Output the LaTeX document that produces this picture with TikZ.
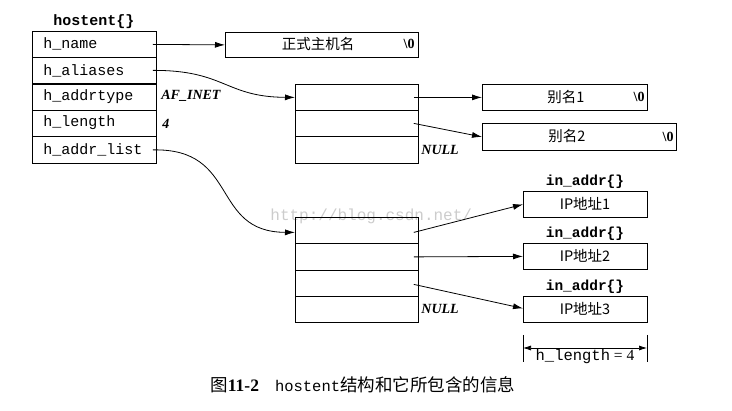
\documentclass[tikz,border=0pt]{standalone}
\usepackage{fontspec}
\setmainfont{Liberation Serif}
\setmonofont{Liberation Mono}
\newfontfamily\cjk{Noto Sans CJK SC}
\usetikzlibrary{arrows.meta}
\begin{document}
\begin{tikzpicture}[x=1pt,y=-1pt,
  line width=0.8pt,
  cell/.style={draw, inner sep=0pt, minimum height=26pt, anchor=north west},
  fld/.style={font=\fontsize{15}{15}\selectfont\ttfamily, anchor=west, inner sep=0pt},
  ttl/.style={font=\fontsize{15}{15}\selectfont\ttfamily\bfseries, inner sep=0pt},
  cn/.style={font=\fontsize{14.5}{15}\selectfont\cjk},
  it/.style={font=\fontsize{14}{14}\selectfont\bfseries\itshape, anchor=west, inner sep=0pt},
  zero/.style={font=\fontsize{14}{14}\selectfont\bfseries, anchor=east, inner sep=0pt},
  arr/.style={-{Latex[length=10pt,width=6pt]}, line width=0.8pt},
]
\useasboundingbox (0,0) rectangle (732,411);

% watermark
\node[font=\fontsize{16}{16}\selectfont\ttfamily, text=black!20, anchor=west, inner sep=0pt] (wm) at (270,216) {http://blog.csdn.net/};

% hostent struct
\node[ttl] (host) at (94,22) {hostent\{\}};
\node[cell, minimum width=124pt] (r1) at (32,31) {};
\node[cell, minimum width=124pt] (r2) at (32,57) {};
\node[cell, minimum width=124pt] (r3) at (32,84) {};
\node[cell, minimum width=124pt] (r4) at (32,110) {};
\node[cell, minimum width=124pt, minimum height=27pt] (r5) at (32,136) {};
\node[fld] (t1) at (43,44) {h\_name};
\node[fld] (t2) at (43,71) {h\_aliases};
\node[fld] (t3) at (43,97) {h\_addrtype};
\node[fld] (t4) at (43,123) {h\_length};
\node[fld] (t5) at (43,150) {h\_addr\_list};
\node[it] (afinet) at (161,96) {AF\_INET};
\node[it] (four) at (162,124) {4};

% official name
\node[cell, minimum width=193pt, minimum height=25pt] (nm) at (225,32) {};
\node[cn] (nmt) at (318,44) {正式主机名};
\node[zero] (nm0) at (415,44) {\textbackslash 0};

% alias array
\node[cell, minimum width=123pt] (a1) at (295,84) {};
\node[cell, minimum width=123pt] (a2) at (295,110) {};
\node[cell, minimum width=123pt, minimum height=27pt] (a3) at (295,136) {};
\node[it] (null1) at (421,150) {NULL};

% alias strings
\node[cell, minimum width=165pt] (al1) at (482,84) {};
\node[cn] (al1t) at (566,97) {别名1};
\node[zero] (al10) at (645,97) {\textbackslash 0};
\node[cell, minimum width=194pt, minimum height=27pt] (al2) at (482,123) {};
\node[cn] (al2t) at (567,136.5) {别名2};
\node[zero] (al20) at (674,136.5) {\textbackslash 0};

% addr list array
\node[cell, minimum width=123pt] (b1) at (295,217) {};
\node[cell, minimum width=123pt, minimum height=27pt] (b2) at (295,243) {};
\node[cell, minimum width=123pt] (b3) at (295,270) {};
\node[cell, minimum width=123pt] (b4) at (295,296) {};
\node[it] (null2) at (421,309) {NULL};

% in_addr
\node[ttl, font=\fontsize{14.5}{15}\selectfont\ttfamily\bfseries] (ia1) at (585,182) {in\_addr\{\}};
\node[ttl, font=\fontsize{14.5}{15}\selectfont\ttfamily\bfseries] (ia2) at (585,234) {in\_addr\{\}};
\node[ttl, font=\fontsize{14.5}{15}\selectfont\ttfamily\bfseries] (ia3) at (585,287) {in\_addr\{\}};
\node[cell, minimum width=124pt] (ip1) at (523,191) {};
\node[cell, minimum width=124pt] (ip2) at (523,243) {};
\node[cell, minimum width=124pt] (ip3) at (523,296) {};
\node[cn] (ip1t) at (585,204) {IP地址1};
\node[cn] (ip2t) at (585,256) {IP地址2};
\node[cn] (ip3t) at (585,309) {IP地址3};

% connectors
\draw[arr] ([xshift=-4pt]r1.east) -- (nm.west);
\draw[arr] ([xshift=-4pt]r2.east) .. controls (225,70) and (225,97) .. (a1.west);
\draw[arr] ([xshift=-4pt]r5.east) .. controls (240,148) and (210,232) .. ([yshift=-2pt]b1.west);
\draw[arr] ([xshift=-5pt]a1.east) -- (al1.west);
\draw[arr] ([xshift=-5pt]a2.east) -- (al2.west);
\draw[arr] ([xshift=-5pt,yshift=-2pt]b1.east) -- ([yshift=0pt]ip1.west);
\draw[arr] ([xshift=-5pt]b2.east) -- (ip2.west);
\draw[arr] ([xshift=-5pt,yshift=-1pt]b3.east) -- ([yshift=1pt]ip3.west);

% dimension
\coordinate (d1) at (523,348);
\coordinate (d2) at (647,348);
\draw[line width=0.7pt] ([yshift=13pt]d1) -- ([yshift=-14pt]d1);
\draw[line width=0.7pt] ([yshift=13pt]d2) -- ([yshift=-14pt]d2);
\draw[{Latex[length=8pt,width=5pt]}-{Latex[length=8pt,width=5pt]}, line width=0.7pt] (d1) -- (d2);
\node[inner sep=0pt, font=\fontsize{15.5}{15}\selectfont] (dl) at (585,356) {\texttt{h\_length} = 4};

% caption
\node[anchor=west, inner sep=0pt, font=\fontsize{17.5}{17}\selectfont] (cap) at (210,385)
  {{\cjk 图}\textbf{11-2}\hspace{16pt}{\ttfamily\fontsize{15.5}{16}\selectfont hostent}{\cjk 结构和它所包含的信息}};
\end{tikzpicture}
\end{document}
